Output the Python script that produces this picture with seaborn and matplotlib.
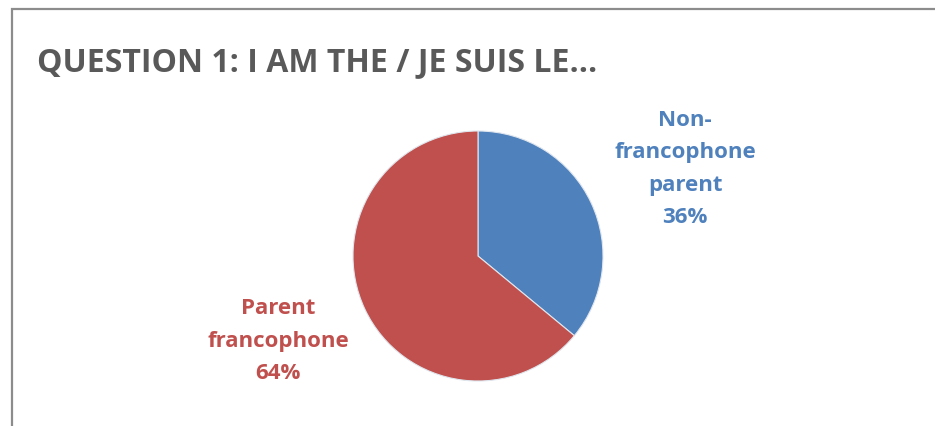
import matplotlib
matplotlib.use("Agg")
import matplotlib.pyplot as plt
import seaborn as sns
from matplotlib.patches import Rectangle

# Data
categories = ["Non-\nfrancophone\nparent", "Parent\nfrancophone"]
shares = [36, 64]
slice_colors = ["#4F81BD", "#C0504D"]
title_text = "QUESTION 1: I AM THE / JE SUIS LE..."

sns.set_theme(style="white")
plt.rcParams['font.family'] = ['Open Sans', 'DejaVu Sans']

W, H = 935, 426
fig = plt.figure(figsize=(W / 100, H / 100), dpi=100)
fig.patch.set_facecolor("white")

# chart frame (cut off at right and bottom like the screenshot)
fig.add_artist(Rectangle((11.5 / W, -0.1), 1.2, (H - 8.5) / H + 0.1,
                         transform=fig.transFigure, fill=False,
                         edgecolor="#8c8c8c", linewidth=1.6))

fig.text(37 / W, 1 - 71 / H, title_text, fontsize=23, fontweight="bold",
         color="#595959", ha="left", va="baseline")

# pie axes: centre (478, 256), radius 125 px
cx, cy, r = 478, 256, 125
ax = fig.add_axes([(cx - r) / W, (H - cy - r) / H, 2 * r / W, 2 * r / H])
ax.pie(shares, colors=slice_colors, startangle=90, counterclock=False,
       radius=1, wedgeprops=dict(edgecolor="#dfe6ee", linewidth=0.8))
ax.set_xlim(-1, 1)
ax.set_ylim(-1, 1)
ax.axis("off")

label_pos = [(1.656, 0.696), (-1.6, -0.68)]
for cat, val, col, (lx, ly) in zip(categories, shares, slice_colors, label_pos):
    ax.text(lx, ly, f"{cat}\n{val}%", ha="center", va="center", color=col,
            fontsize=16, fontweight="bold", linespacing=1.72, clip_on=False)

fig.savefig("out.png", dpi=100)
